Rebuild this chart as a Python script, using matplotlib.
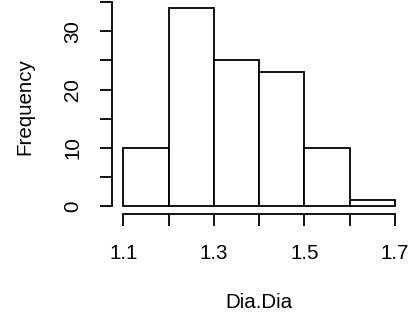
import matplotlib
matplotlib.use("Agg")
import matplotlib.pyplot as plt

plt.rcParams["font.family"] = ["Liberation Sans", "DejaVu Sans"]

# histogram of Dia.Dia (bin edges and counts)
bin_edges = [1.1, 1.2, 1.3, 1.4, 1.5, 1.6, 1.7]
counts = [10, 34, 25, 23, 10, 1]

x_ticks = [1.1, 1.2, 1.3, 1.4, 1.5, 1.6, 1.7]
x_ticklabels = ["1.1", "", "1.3", "", "1.5", "", "1.7"]
y_ticks = [0, 5, 10, 15, 20, 25, 30, 35]
y_ticklabels = ["0", "", "10", "", "20", "", "30", ""]

fs = 14.8
lw = 1.3

fig = plt.figure(figsize=(4.18, 3.17), dpi=100)
ax = fig.add_axes([0.2689, 0.325, 0.7022, 0.675])

widths = [b - a for a, b in zip(bin_edges[:-1], bin_edges[1:])]
ax.bar(bin_edges[:-1], counts, width=widths, align="edge",
       facecolor="white", edgecolor="black", linewidth=lw)

ax.set_xlim(1.076, 1.724)
ax.set_ylim(-1.36, 35.36)

for s in ["top", "right"]:
    ax.spines[s].set_visible(False)
ax.spines["bottom"].set_bounds(1.1, 1.7)
ax.spines["left"].set_bounds(0, 35)
for s in ["bottom", "left"]:
    ax.spines[s].set_linewidth(lw)

ax.set_xticks(x_ticks)
ax.set_xticklabels(x_ticklabels)
ax.set_yticks(y_ticks)
ax.set_yticklabels(y_ticklabels, rotation=90, va="center")
ax.tick_params(axis="both", length=8.6, width=lw, labelsize=fs, pad=13)

ax.set_xlabel("Dia.Dia", fontsize=fs, va="center")
ax.xaxis.set_label_coords(0.5, -0.416)
ax.set_ylabel("Frequency", fontsize=fs, va="center")
ax.yaxis.set_label_coords(-0.298, 0.5)

fig.savefig("out.png", dpi=100)
